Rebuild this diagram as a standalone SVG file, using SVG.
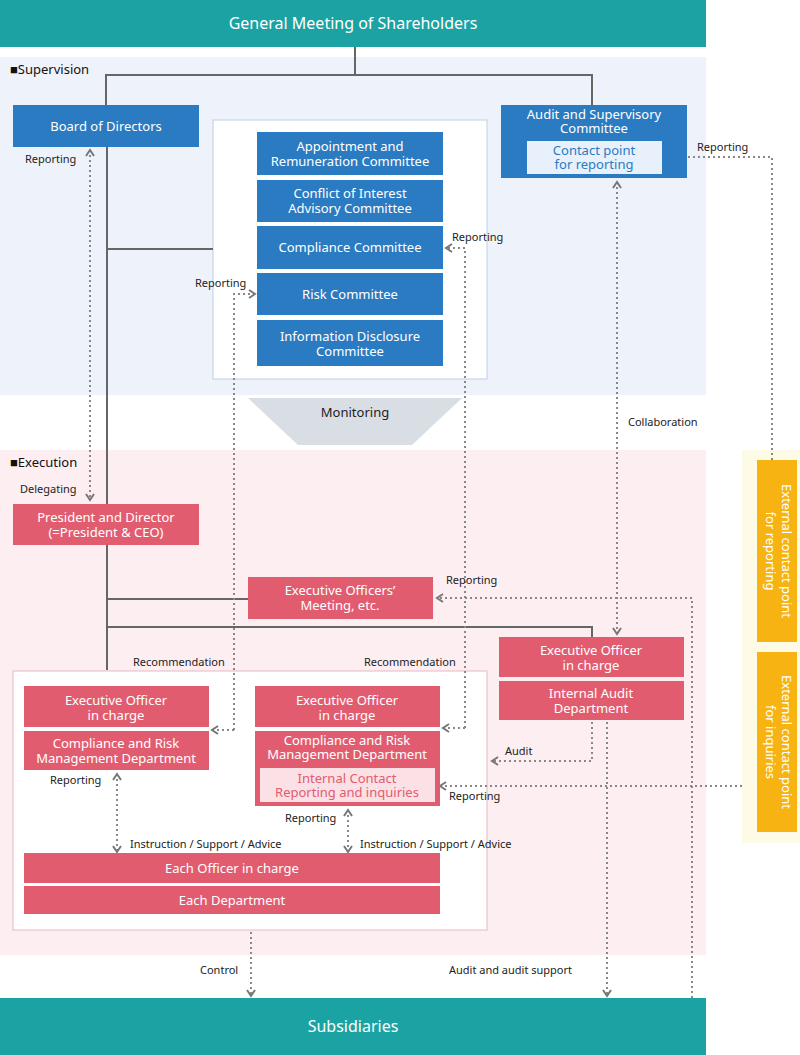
<svg xmlns="http://www.w3.org/2000/svg" width="800" height="1055" viewBox="0 0 800 1055">
<defs>
<style>
text{font-family:"Noto Sans","Liberation Sans",sans-serif}
.w{fill:#fff;font-size:13px;text-anchor:middle}
.h{fill:#fff;font-size:16px;text-anchor:middle}
.l{fill:#222;font-size:11px}
.b{fill:#2b7bc2}
.p{fill:#e25c6f}
.ln{stroke:#666;stroke-width:2;fill:none}
.da{stroke:#888;stroke-width:2;fill:none;stroke-dasharray:2 3;marker-end:url(#a)}
.db{stroke:#888;stroke-width:2;fill:none;stroke-dasharray:2 3;marker-end:url(#a);marker-start:url(#s)}
</style>
<marker id="a" markerWidth="10" markerHeight="10" refX="7" refY="5" orient="auto" markerUnits="userSpaceOnUse"><path d="M1,1 L7,5 L1,9" fill="none" stroke="#777" stroke-width="2"/></marker>
<marker id="s" markerWidth="10" markerHeight="10" refX="3" refY="5" orient="auto" markerUnits="userSpaceOnUse"><path d="M9,1 L3,5 L9,9" fill="none" stroke="#777" stroke-width="2"/></marker>
</defs>
<rect width="800" height="1055" fill="#fff"/>
<rect x="0" y="57" width="706" height="338" fill="#eef3fb"/>
<rect x="0" y="450" width="706" height="505" fill="#fdeef2"/>
<rect x="742" y="450" width="58" height="393" fill="#fdfbe6"/>
<text x="10" y="74" style="font-size:13px;fill:#111">■Supervision</text>
<text x="10" y="467" style="font-size:13px;fill:#111">■Execution</text>

<g id="committees-frame"><rect x="213" y="120" width="274" height="259" fill="#fff" stroke="#bcd0e6"/></g>
<g id="lower-frame"><rect x="13" y="671" width="474" height="259" fill="#fff" stroke="#e8b8c2"/></g>

<g id="connectors">
<path class="ln" d="M355,47V75M106,105V75H592V105M107,147V670M107,249H213M107,599H248M107,627H592V637"/>
<path class="db" d="M90,150V500"/>
<path class="db" d="M617,182V634"/>
<path class="da" d="M772,460V157H665"/>
<path class="da" d="M742,786H440"/>
<path class="da" d="M692,998V598H437"/>
<path class="da" d="M592,722V761H492"/>
<path class="da" d="M607,722V996"/>
<path class="da" d="M234,730V294H255"/>
<path class="da" d="M234,730H212"/>
<path class="da" d="M465,728V248H446"/>
<path class="da" d="M465,728H443"/>
<path class="db" d="M117,774V852"/>
<path class="db" d="M348,810V852"/>
<path class="da" d="M251,932V996"/>
</g>

<g id="gm"><rect x="0" y="0" width="706" height="47" fill="#1ba3a4"/><text class="h" x="353" y="29">General Meeting of Shareholders</text></g>
<g id="subs"><rect x="0" y="998" width="706" height="57" fill="#1ba3a4"/><text class="h" x="353" y="1032">Subsidiaries</text></g>

<g id="board"><rect class="b" x="13" y="105" width="186" height="42"/><text class="w" x="106" y="131">Board of Directors</text></g>
<g id="audit"><rect class="b" x="501" y="105" width="186" height="73"/><text class="w" x="594" y="119">Audit and Supervisory</text><text class="w" x="594" y="133">Committee</text>
<rect x="527" y="141" width="135" height="33" fill="#e8f0fb"/><text class="w" x="594" y="155" style="fill:#2b7bc2">Contact point</text><text class="w" x="594" y="169" style="fill:#2b7bc2">for reporting</text></g>

<g id="committees">
<rect class="b" x="257" y="132" width="186" height="43"/><text class="w" x="350" y="151">Appointment and</text><text class="w" x="350" y="166">Remuneration Committee</text>
<rect class="b" x="257" y="180" width="186" height="42"/><text class="w" x="350" y="198">Conflict of Interest</text><text class="w" x="350" y="213">Advisory Committee</text>
<rect class="b" x="257" y="226" width="186" height="43"/><text class="w" x="350" y="252">Compliance Committee</text>
<rect class="b" x="257" y="273" width="186" height="42"/><text class="w" x="350" y="299">Risk Committee</text>
<rect class="b" x="257" y="320" width="186" height="46"/><text class="w" x="350" y="341">Information Disclosure</text><text class="w" x="350" y="356">Committee</text></g>

<g id="monitoring"><path d="M248,398H462L412,445H298Z" fill="#d9dde4"/><text x="355" y="417" style="font-size:13px;fill:#222;text-anchor:middle">Monitoring</text></g>

<g id="president"><rect class="p" x="13" y="504" width="186" height="41"/><text class="w" x="106" y="522">President and Director</text><text class="w" x="106" y="537">(=President &amp; CEO)</text></g>
<g id="meeting"><rect class="p" x="248" y="577" width="185" height="42"/><text class="w" x="340" y="595">Executive Officers’</text><text class="w" x="340" y="610">Meeting, etc.</text></g>
<g id="eo-audit"><rect class="p" x="499" y="637" width="185" height="40"/><text class="w" x="591" y="655">Executive Officer</text><text class="w" x="591" y="670">in charge</text></g>
<g id="internal-audit"><rect class="p" x="499" y="681" width="185" height="39"/><text class="w" x="591" y="698">Internal Audit</text><text class="w" x="591" y="713">Department</text></g>

<g id="ext-rep"><rect x="757" y="460" width="40" height="182" fill="#f6b312"/><text class="w" transform="translate(782,551) rotate(90)">External contact point</text><text class="w" transform="translate(766,551) rotate(90)">for reporting</text></g>
<g id="ext-inq"><rect x="757" y="652" width="40" height="180" fill="#f6b312"/><text class="w" transform="translate(782,742) rotate(90)">External contact point</text><text class="w" transform="translate(766,742) rotate(90)">for inquiries</text></g>

<g id="lower">
<rect class="p" x="24" y="686" width="185" height="41"/><text class="w" x="116" y="705">Executive Officer</text><text class="w" x="116" y="720">in charge</text>
<rect class="p" x="24" y="731" width="185" height="39"/><text class="w" x="116" y="748">Compliance and Risk</text><text class="w" x="116" y="763">Management Department</text>
<rect class="p" x="255" y="686" width="185" height="41"/><text class="w" x="347" y="705">Executive Officer</text><text class="w" x="347" y="720">in charge</text>
<rect class="p" x="255" y="731" width="185" height="75"/><text class="w" x="347" y="745">Compliance and Risk</text><text class="w" x="347" y="759">Management Department</text>
<rect x="260" y="768" width="175" height="34" fill="#fbe0e5"/><text class="w" x="347" y="783" style="fill:#e25c6f">Internal Contact</text><text class="w" x="347" y="797" style="fill:#e25c6f">Reporting and inquiries</text>
<rect class="p" x="24" y="853" width="416" height="30"/><text class="w" x="232" y="873">Each Officer in charge</text>
<rect class="p" x="24" y="886" width="416" height="28"/><text class="w" x="232" y="905">Each Department</text></g>

<g id="labels">
<text class="l" x="25" y="163">Reporting</text>
<text class="l" x="20" y="493">Delegating</text>
<text class="l" x="697" y="151">Reporting</text>
<text class="l" x="452" y="241">Reporting</text>
<text class="l" x="195" y="287">Reporting</text>
<text class="l" x="628" y="426">Collaboration</text>
<text class="l" x="446" y="584">Reporting</text>
<text class="l" x="133" y="666">Recommendation</text>
<text class="l" x="364" y="666">Recommendation</text>
<text class="l" x="505" y="755">Audit</text>
<text class="l" x="50" y="784">Reporting</text>
<text class="l" x="449" y="800">Reporting</text>
<text class="l" x="285" y="822">Reporting</text>
<text class="l" x="130" y="848">Instruction / Support / Advice</text>
<text class="l" x="360" y="848">Instruction / Support / Advice</text>
<text class="l" x="200" y="974">Control</text>
<text class="l" x="449" y="974">Audit and audit support</text>
</g>
</svg>
